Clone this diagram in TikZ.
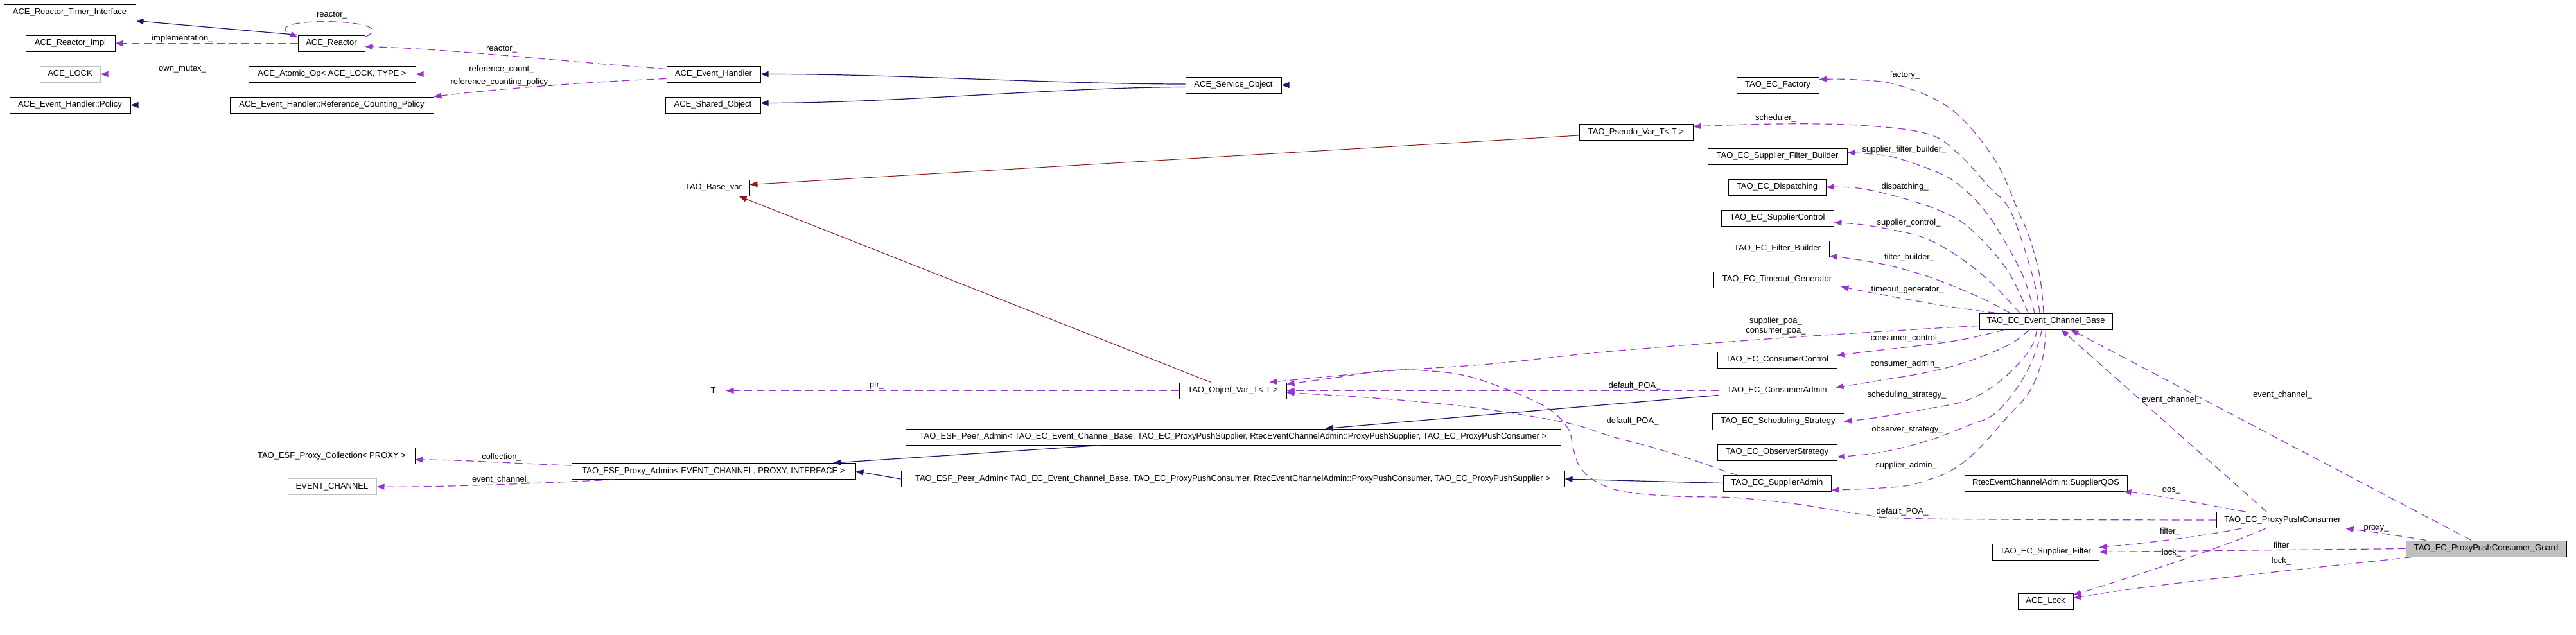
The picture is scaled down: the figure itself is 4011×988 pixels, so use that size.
\documentclass[tikz,border=0pt]{standalone}
\usepackage{fontspec}
\setmainfont{Liberation Sans}
\usetikzlibrary{arrows.meta,calc}
\definecolor{inhc}{RGB}{25,25,112}
\definecolor{usec}{RGB}{154,50,205}
\definecolor{tplc}{RGB}{139,26,26}
\definecolor{grayc}{RGB}{191,191,191}
\begin{document}
\begin{tikzpicture}[x=1pt,y=-1pt,font=\fontsize{13}{15}\selectfont,
  cls/.style={draw=black,line width=1pt,minimum height=25pt,inner sep=0pt,anchor=center},
  gcls/.style={cls,draw=grayc},
  lbl/.style={inner sep=0pt,anchor=center,align=center},
  tip/.style={-{Triangle[length=12pt,width=9pt]}},
  inh/.style={draw=inhc,line width=1.2pt,tip},
  usee/.style={draw=usec,line width=1.2pt,dash pattern=on 12pt off 7pt,tip},
  tpl/.style={draw=tplc,line width=1pt,tip}]
\fill[white] (0,0) rectangle (4011,988);
\useasboundingbox (0,0) rectangle (4011,988);

% ---------- nodes ----------
\node[cls,minimum width=205pt] (rti) at (108.5,19.5) {ACE\_Reactor\_Timer\_Interface};
\node[cls,minimum width=139pt] (rimpl) at (109.5,67.5) {ACE\_Reactor\_Impl};
\node[cls,minimum width=104pt] (reactor) at (516,67.5) {ACE\_Reactor};
\node[gcls,minimum width=94pt] (acelockT) at (109,115.5) {ACE\_LOCK};
\node[cls,minimum width=260pt] (atomic) at (517,115.5) {ACE\_Atomic\_Op< ACE\_LOCK, TYPE >};
\node[cls,minimum width=188pt] (policy) at (109,163.5) {ACE\_Event\_Handler::Policy};
\node[cls,minimum width=317pt] (rcp) at (516.5,163.5) {ACE\_Event\_Handler::Reference\_Counting\_Policy};
\node[cls,minimum width=146pt] (eh) at (1111,115.5) {ACE\_Event\_Handler};
\node[cls,minimum width=148pt] (so) at (1110,163.5) {ACE\_Shared\_Object};
\node[cls,minimum width=149pt] (svc) at (1920.5,132.5) {ACE\_Service\_Object};
\node[cls,minimum width=128pt] (fac) at (2768,132.5) {TAO\_EC\_Factory};
\node[cls,minimum width=177pt] (pseudo) at (2547.5,206) {TAO\_Pseudo\_Var\_T< T >};
\node[cls,minimum width=217pt] (sfb) at (2767.5,243.5) {TAO\_EC\_Supplier\_Filter\_Builder};
\node[cls,minimum width=152pt] (disp) at (2767,291.5) {TAO\_EC\_Dispatching};
\node[cls,minimum width=175pt] (sctl) at (2767.5,339.5) {TAO\_EC\_SupplierControl};
\node[cls,minimum width=161pt] (fb) at (2767.5,387.5) {TAO\_EC\_Filter\_Builder};
\node[cls,minimum width=198pt] (tg) at (2767,435.5) {TAO\_EC\_Timeout\_Generator};
\node[cls,minimum width=112pt] (base) at (1111,292.5) {TAO\_Base\_var};
\node[cls,minimum width=207pt] (ecb) at (3185.5,500.5) {TAO\_EC\_Event\_Channel\_Base};
\node[cls,minimum width=186pt] (cctl) at (2767,560.5) {TAO\_EC\_ConsumerControl};
\node[cls,minimum width=182pt] (cadm) at (2767,608.5) {TAO\_EC\_ConsumerAdmin};
\node[cls,minimum width=167pt] (objref) at (1919.5,608.5) {TAO\_Objref\_Var\_T< T >};
\node[gcls,minimum width=39pt] (tT) at (1110.5,608.5) {T};
\node[cls,minimum width=205pt] (sstrat) at (2768.5,656.5) {TAO\_EC\_Scheduling\_Strategy};
\node[cls,minimum width=1020pt] (pas) at (1920,680.5) {TAO\_ESF\_Peer\_Admin< TAO\_EC\_Event\_Channel\_Base, TAO\_EC\_ProxyPushSupplier, RtecEventChannelAdmin::ProxyPushSupplier, TAO\_EC\_ProxyPushConsumer >};
\node[cls,minimum width=186pt] (ostrat) at (2767,704.5) {TAO\_EC\_ObserverStrategy};
\node[cls,minimum width=259pt] (pcoll) at (516.5,710) {TAO\_ESF\_Proxy\_Collection< PROXY >};
\node[cls,minimum width=442pt] (padm) at (1111,734) {TAO\_ESF\_Proxy\_Admin< EVENT\_CHANNEL, PROXY, INTERFACE >};
\node[cls,minimum width=1033pt] (pac) at (1919.5,746) {TAO\_ESF\_Peer\_Admin< TAO\_EC\_Event\_Channel\_Base, TAO\_EC\_ProxyPushConsumer, RtecEventChannelAdmin::ProxyPushConsumer, TAO\_EC\_ProxyPushSupplier >};
\node[cls,minimum width=168pt] (sadm) at (2767,752.5) {TAO\_EC\_SupplierAdmin};
\node[cls,minimum width=253pt] (qos) at (3185.5,752.5) {RtecEventChannelAdmin::SupplierQOS};
\node[gcls,minimum width=138pt] (evch) at (517,758) {EVENT\_CHANNEL};
\node[cls,minimum width=206pt] (ppc) at (3554,810) {TAO\_EC\_ProxyPushConsumer};
\node[cls,fill=grayc,minimum width=250pt] (guard) at (3871,854.5) {TAO\_EC\_ProxyPushConsumer\_Guard};
\node[cls,minimum width=166pt] (sfilt) at (3185,859.5) {TAO\_EC\_Supplier\_Filter};
\node[cls,minimum width=86pt] (alock) at (3185,936.5) {ACE\_Lock};

% ---------- inheritance ----------
\draw[inh] (reactor.north west) -- (rti.south east);
\draw[inh] (rcp.west) -- (policy.east);
\draw[inh] ($(svc.west)+(0,-1.5)$) .. controls (1650,131) and (1400,115.5) .. (eh.east);
\draw[inh] ($(svc.west)+(0,3)$) .. controls (1650,136) and (1400,160) .. ($(so.east)+(0,-3)$);
\draw[inh] (fac.west) -- (svc.east);
\draw[inh] ($(cadm.west)+(0,7)$) -- ($(pas.north west)+(654,0)$);
\draw[inh] (sadm.west) -- (pac.east);
\draw[inh] ($(pas.south west)+(304,0)$) -- ($(padm.north east)+(-35,0)$);
\draw[inh] (pac.west) -- (padm.east);

% ---------- template ----------
\draw[tpl] ($(pseudo.west)+(0,5)$) -- ($(base.east)+(0,-5)$);
\draw[tpl] ($(objref.north west)+(50,0)$) -- ($(base.south east)+(-17,0)$);

% ---------- usage, left ----------
\draw[usee] ($(reactor.north east)+(0,3)$) .. controls (635,28) and (395,25) .. ($(reactor.north west)+(0,4)$);
\draw[usee] (reactor.west) -- (rimpl.east);
\draw[usee] (atomic.west) -- (acelockT.east);
\draw[usee] ($(eh.west)+(0,-8)$) .. controls (900,98) and (700,76) .. ($(reactor.east)+(0,5)$);
\draw[usee] (eh.west) -- (atomic.east);
\draw[usee] ($(eh.west)+(0,7)$) .. controls (900,128) and (760,140) .. (rcp.north east);
\draw[usee] (objref.west) -- (tT.east);
\draw[usee] ($(padm.west)+(0,-9)$) .. controls (800,722) and (720,716) .. ($(pcoll.east)+(0,6)$);
\draw[usee] ($(padm.south west)+(67,0)$) .. controls (850,752) and (700,759) .. (evch.east);

% ---------- usage, event channel fan ----------
\draw[usee] plot[smooth,tension=0.6] coordinates {($(ecb.north)+(-3.5,0)$) (3176,430) (3160,370) (3143,330) (3105,247) (3038,170) (2957,133) (2890,124) ($(fac.east)+(0,-9)$)};
\draw[usee] plot[smooth,tension=0.6] coordinates {($(ecb.north)+(-9.5,0)$) (3165,430) (3131,330) (3096,290) (3050,240) (3000,208) (2893,195) (2765,193) ($(pseudo.east)+(0,-9)$)};
\draw[usee] plot[smooth,tension=0.6] coordinates {($(ecb.north)+(-17.5,0)$) (3150,430) (3118,370) (3092,330) (3061,297) (3025,272) (2957,247) (2915,240) ($(sfb.east)+(0,-6)$)};
\draw[usee] plot[smooth,tension=0.6] coordinates {($(ecb.north)+(-27.5,0)$) (3125,420) (3070,358) (3025,330) (2957,307) (2893,293) (disp.east)};
\draw[usee] plot[smooth,tension=0.6] coordinates {($(ecb.north)+(-40.5,0)$) (3100,440) (3050,400) (3000,372) (2957,360) (2900,350) ($(sctl.east)+(0,7)$)};
\draw[usee] plot[smooth,tension=0.6] coordinates {($(ecb.north)+(-55.5,0)$) (3080,462) (3000,430) (2925,410) ($(fb.east)+(0,11)$)};
\draw[usee] plot[smooth,tension=0.6] coordinates {($(ecb.north)+(-77.5,0)$) (3032,477) (2925,458) ($(tg.east)+(0,11)$)};
\draw[usee] plot[smooth,tension=0.6] coordinates {($(ecb.west)+(0,7)$) (3000,512) (2765,527) (2510,547) (2319,567) (2159,578) ($(objref.north east)+(-27,0)$)};
\draw[usee] plot[smooth,tension=0.6] coordinates {($(ecb.south)+(-64,0)$) (3060,528) (3000,537) (2930,545) ($(cctl.east)+(0,-7)$)};
\draw[usee] plot[smooth,tension=0.6] coordinates {($(ecb.south)+(-26,0)$) (3128,537) (3064,563) (3000,580) (2930,592) ($(cadm.east)+(0,-5)$)};
\draw[usee] plot[smooth,tension=0.6] coordinates {($(ecb.south)+(-14,0)$) (3159,547) (3115,593) (3064,623) (3000,637) (2925,650) (sstrat.east)};
\draw[usee] plot[smooth,tension=0.6] coordinates {($(ecb.south)+(-6,0)$) (3165,560) (3140,605) (3105,645) (3064,663) (3000,687) (2925,705) ($(ostrat.east)+(0,7)$)};
\draw[usee] plot[smooth,tension=0.6] coordinates {(ecb.south) (3180,560) (3160,610) (3125,650) (3077,703) (3038,733) (3000,748) (2957,758) ($(sadm.east)+(0,11)$)};

% ---------- default_POA_ ----------
\draw[usee] (cadm.west) -- (objref.east);
\draw[usee] plot[smooth,tension=0.6] coordinates {(ppc.west) (3000,808) (2893,800) (2797,785) (2700,775) (2610,773) (2530,766) (2485,750) (2460,727) (2450,700) (2440,665) (2400,630) (2300,590) (2230,578) (2159,577) (2080,588) ($(objref.east)+(0,-10)$)};
\draw[usee] plot[smooth,tension=0.6] coordinates {($(sadm.north west)+(22,0)$) (2689,735) (2638,717) (2574,697) (2510,680) (2446,660) (2351,643) (2255,630) (2128,619) ($(objref.east)+(0,3)$)};

% ---------- usage, right ----------
\draw[usee] ($(ppc.north)+(-25,0)$) -- ($(ecb.south)+(24,0)$);
\draw[usee] ($(guard.north)+(-23,0)$) -- ($(ecb.south)+(39,0)$);
\draw[usee] ($(ppc.north west)+(46,0)$) .. controls (3430,785) and (3350,770) .. ($(qos.south east)+(-6,0)$);
\draw[usee] ($(ppc.south west)+(40,0)$) .. controls (3420,837) and (3330,847) .. ($(sfilt.east)+(0,-7)$);
\draw[usee] (guard.west) -- (sfilt.east);
\draw[usee] ($(ppc.south west)+(77,0)$) .. controls (3470,850) and (3300,905) .. ($(alock.east)+(0,-10)$);
\draw[usee] ($(guard.south west)+(10,0)$) .. controls (3600,885) and (3350,910) .. ($(alock.east)+(0,-5)$);
\draw[usee] ($(guard.north west)+(32,0)$) .. controls (3740,835) and (3690,828) .. ($(ppc.south east)+(-5,0)$);

% ---------- labels ----------
\node[lbl] (l1) at (517,24) {reactor\_};
\node[lbl] (l2) at (284,60) {implementation\_};
\node[lbl] (l3) at (284,108) {own\_mutex\_};
\node[lbl] (l4) at (781,77) {reactor\_};
\node[lbl] (l5) at (781,108) {reference\_count\_};
\node[lbl] (l6) at (781,128) {reference\_counting\_policy\_};
\node[lbl] (l7) at (2966,117) {factory\_};
\node[lbl] (l8) at (2765,184) {scheduler\_};
\node[lbl] (l9) at (2965,233) {supplier\_filter\_builder\_};
\node[lbl] (l10) at (2966,291) {dispatching\_};
\node[lbl] (l11) at (2972,347) {supplier\_control\_};
\node[lbl] (l12) at (2973,401) {filter\_builder\_};
\node[lbl] (l13) at (2970,451) {timeout\_generator\_};
\node[lbl] (l14) at (2765,508) {supplier\_poa\_\\consumer\_poa\_};
\node[lbl] (l15) at (2968,527) {consumer\_control\_};
\node[lbl] (l16) at (2966,567) {consumer\_admin\_};
\node[lbl] (l17) at (2969,615) {scheduling\_strategy\_};
\node[lbl] (l18) at (2970,669) {observer\_strategy\_};
\node[lbl] (l19) at (2968,725) {supplier\_admin\_};
\node[lbl] (l20) at (1365,601) {ptr\_};
\node[lbl] (l21) at (2545,601) {default\_POA\_};
\node[lbl] (l22) at (2542,656) {default\_POA\_};
\node[lbl] (l23) at (2962,797) {default\_POA\_};
\node[lbl] (l24) at (781,712) {collection\_};
\node[lbl] (l25) at (781,747) {event\_channel\_};
\node[lbl] (l26) at (3381,623) {event\_channel\_};
\node[lbl] (l27) at (3554,615) {event\_channel\_};
\node[lbl] (l28) at (3381,764) {qos\_};
\node[lbl] (l29) at (3700,823) {proxy\_};
\node[lbl] (l30) at (3379,828) {filter\_};
\node[lbl] (l31) at (3552,849) {filter};
\node[lbl] (l32) at (3381,861) {lock\_};
\node[lbl] (l33) at (3552,874) {lock\_};
\end{tikzpicture}
\end{document}
